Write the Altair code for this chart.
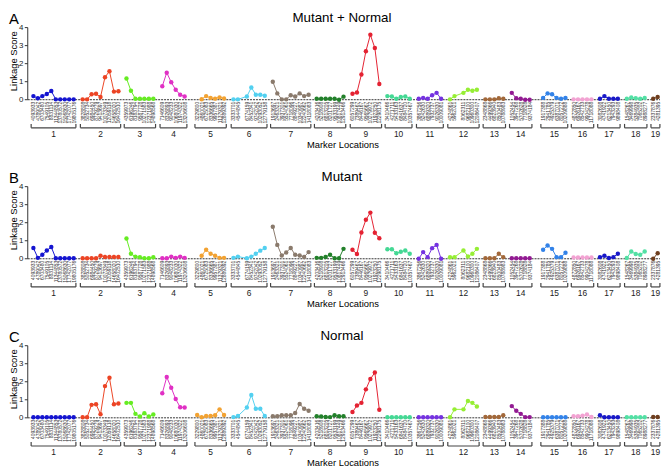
import altair as alt
import pandas as pd

FONT = "Liberation Sans"

CHROMS = [str(i) for i in range(1, 20)]
COLORS = ["#1414d0", "#ec4424", "#66ec22", "#e030c4", "#f2a232", "#52d0f0",
          "#8a7a6c", "#22802a", "#e42232", "#44d894", "#7432e0", "#96ee34",
          "#a2683a", "#921a92", "#3282e8", "#f2a2d2", "#1818c8", "#52e0a4",
          "#6e3e1e"]

# marker index of the first marker of each chromosome (x positions in marker units)
START = [0.0, 11.0, 20.8, 28.8, 36.6, 44.7, 53.5, 63.3, 71.3, 79.1, 86.1,
         93.1, 101.0, 106.9, 113.9, 120.7, 126.6, 132.6, 138.5]
STEPS = {"6": [0, 1, 3, 4, 5, 6, 7], "12": [0, 1, 3, 4, 5, 6]}

MARKERS = {
    "1": ["4093933", "4789042", "6703480", "7549105", "8831114", "11344853", "13780572", "15068630", "17742077", "19805176"],
    "2": ["3828808", "5052734", "6984450", "8729279", "9413697", "10073349", "12059118", "14658020", "16402510"],
    "3": ["4359973", "6196246", "8183794", "9587728", "10271583", "12371988", "14898568"],
    "4": ["7146609", "8326893", "9048233", "10680030", "11974322", "13206608"],
    "5": ["3229800", "4860021", "6725083", "8336665", "9957387", "11379321", "12889392"],
    "6": ["3333701", "4544845", "6774159", "8452341", "9742042", "10293052", "12779158"],
    "7": ["1913697", "2463321", "3937301", "5524061", "7718096", "8849227", "10340987", "12240662", "14118083"],
    "8": ["4203416", "5218908", "6813205", "8201727", "9533199", "10817449", "12913466"],
    "9": ["6057299", "7389467", "8446167", "9565667", "10279972", "11923250", "12298175"],
    "10": ["3410466", "4271711", "5433163", "6841637", "8484720", "10357467"],
    "11": ["3867256", "5242630", "6889320", "7932737", "9026330", "10009081"],
    "12": ["4224861", "5962021", "8062311", "9682100", "10960300", "12086407"],
    "13": ["2348868", "4499366", "6823940", "8500483", "10788983"],
    "14": ["1052454", "3947268", "5702628", "7718828", "9374184"],
    "15": ["1917388", "2941785", "4925379", "6387071", "8057272", "10209888"],
    "16": ["4872850", "6926167", "8542733", "9904278", "11718088"],
    "17": ["3082608", "4741922", "6213450", "7943293", "9898408"],
    "18": ["1548267", "3469998", "5384935", "7065202", "8988277"],
    "19": ["2337876", "4281395"],
}

SCORE_A = {
    "1": [0.2, 0.08, 0.2, 0.32, 0.48, 0.02, 0.02, 0.02, 0.02, 0.02],
    "2": [0.02, 0.02, 0.3, 0.33, 0.15, 1.25, 1.58, 0.45, 0.47],
    "3": [1.18, 0.5, 0.05, 0.05, 0.05, 0.05, 0.05],
    "4": [0.75, 1.5, 0.97, 0.55, 0.28, 0.18],
    "5": [None, 0.03, 0.2, 0.1, 0.06, 0.13, 0.07],
    "6": [0.02, 0.02, 0.18, 0.68, 0.28, 0.28, 0.22],
    "7": [1.0, 0.35, 0.02, 0.02, 0.25, 0.18, 0.35, 0.2, 0.28],
    "8": [0.05, 0.05, 0.05, 0.05, 0.05, 0.0, 0.17],
    "9": [0.33, 0.4, 1.4, 2.69, 3.6, 2.87, 0.87],
    "10": [0.2, 0.18, 0.05, 0.15, 0.18, 0.05],
    "11": [0.05, 0.1, 0.05, 0.25, 0.38, 0.05],
    "12": [0.02, 0.2, 0.38, 0.55, 0.5, 0.55],
    "13": [0.02, 0.02, 0.02, 0.08, 0.05],
    "14": [0.38, 0.08, 0.05, 0.0, 0.0],
    "15": [0.1, 0.35, 0.3, 0.1, 0.05, 0.1],
    "16": [0.02, 0.02, 0.02, 0.02, 0.02],
    "17": [0.05, 0.2, 0.05, 0.05, 0.05],
    "18": [0.05, 0.12, 0.08, 0.05, 0.1],
    "19": [0.05, 0.15],
}

SCORE_B = {
    "1": [0.6, 0.05, 0.22, 0.46, 0.65, 0.03, 0.03, 0.03, 0.03, 0.03],
    "2": [0.03, 0.03, 0.03, 0.03, 0.17, 0.1, 0.1, 0.1, 0.1],
    "3": [1.12, 0.28, 0.12, 0.08, 0.03, 0.03, 0.08],
    "4": [0.03, 0.03, 0.12, 0.05, 0.12, 0.05],
    "5": [None, 0.17, 0.5, 0.28, 0.17, 0.05, 0.05],
    "6": [0.05, 0.12, 0.03, 0.12, 0.28, 0.45, 0.6],
    "7": [1.78, 0.77, 0.18, 0.35, 0.6, 0.22, 0.18, 0.1, 0.37],
    "8": [0.05, 0.05, 0.1, 0.22, 0.03, 0.03, 0.55],
    "9": [0.5, 0.26, 1.46, 2.16, 2.56, 1.44, 1.14],
    "10": [0.53, 0.53, 0.31, 0.39, 0.46, 0.28],
    "11": [0.0, 0.37, 0.09, 0.59, 0.77, 0.0],
    "12": [0.09, 0.09, 0.46, 0.13, 0.28, 0.55],
    "13": [0.03, 0.03, 0.03, 0.28, 0.09],
    "14": [0.03, 0.03, 0.03, 0.03, 0.03],
    "15": [0.5, 0.74, 0.55, 0.09, 0.09, 0.33],
    "16": [0.07, 0.07, 0.07, 0.07, 0.07],
    "17": [0.09, 0.17, 0.04, 0.09, 0.28],
    "18": [0.04, 0.4, 0.26, 0.22, 0.4],
    "19": [0.0, 0.31],
}

SCORE_C = {
    "1": [0.03, 0.03, 0.03, 0.03, 0.03, 0.03, 0.03, 0.03, 0.03, 0.03],
    "2": [0.03, 0.03, 0.72, 0.75, 0.2, 1.76, 2.22, 0.75, 0.79],
    "3": [0.83, 0.83, 0.22, 0.07, 0.25, 0.07, 0.18],
    "4": [1.36, 2.26, 1.67, 1.04, 0.59, 0.57],
    "5": [0.16, 0.03, 0.1, 0.1, 0.14, 0.47, 0.16],
    "6": [0.04, 0.1, 0.57, 1.27, 0.5, 0.5, 0.1],
    "7": [0.09, 0.09, 0.14, 0.14, 0.14, 0.27, 0.77, 0.5, 0.39],
    "8": [0.09, 0.07, 0.05, 0.04, 0.14, 0.09, 0.09],
    "9": [0.32, 0.68, 0.83, 1.58, 2.15, 2.51, 0.45],
    "10": [0.03, 0.03, 0.03, 0.03, 0.03, 0.03],
    "11": [0.03, 0.03, 0.03, 0.03, 0.03, 0.03],
    "12": [0.03, 0.47, 0.47, 0.93, 0.83, 0.63],
    "13": [0.05, 0.05, 0.05, 0.05, 0.14],
    "14": [0.65, 0.39, 0.22, 0.04, 0.04],
    "15": [0.03, 0.03, 0.03, 0.03, 0.03, 0.03],
    "16": [0.09, 0.09, 0.12, 0.18, 0.05],
    "17": [0.14, 0.03, 0.03, 0.03, 0.03],
    "18": [0.03, 0.03, 0.03, 0.03, 0.03],
    "19": [0.05, 0.05],
}

TICKS = [0, 1, 2, 3, 4]

# ---------------- layout constants ----------------
W = 659            # panel width in px
UNIT = 4.53        # px per marker slot
FIRST = 24.7       # px of first marker from left edge
AXIS_X = 19        # px of y axis line
R4, R0 = 17, 90    # px (from panel top) of score 4 and score 0
LAB_Y = 92
BR_Y = 118.5
NUM_Y = 124.5
ML_Y = 136
XDOM = [-FIRST / UNIT, -FIRST / UNIT + W / UNIT]
TITLE_X = 337


def build_frame(scores):
    rows = []
    for i, c in enumerate(CHROMS):
        steps = STEPS.get(c, list(range(len(MARKERS[c]))))
        for st, m, s in zip(steps, MARKERS[c], scores[c]):
            rows.append({"chrom": c, "pos": START[i] + st, "marker": m, "score": s})
    return pd.DataFrame(rows)


def bracket_frame(df):
    g = df.groupby("chrom", sort=False)["pos"].agg(["min", "max"]).reset_index()
    g["lo"] = g["min"] - 0.5
    g["hi"] = g["max"] + 0.5
    g["mid"] = (g["lo"] + g["hi"]) / 2
    return g


def panel(letter, title, scores, P):
    k = (R0 - R4) / 4.0
    ys = alt.Scale(domain=[-(P - R0) / k, 4 + R4 / k], nice=False, zero=False)
    xs = alt.Scale(domain=XDOM, nice=False, zero=False)
    df = build_frame(scores)
    pts = df.dropna(subset=["score"])
    br = bracket_frame(df)
    X = alt.X("pos:Q", scale=xs, axis=None)
    Y = alt.Y("score:Q", scale=ys, axis=None)
    color = alt.Color("chrom:N", scale=alt.Scale(domain=CHROMS, range=COLORS), legend=None)

    baseline = alt.Chart(pd.DataFrame({"v": [0]})).mark_rule(
        color="#333", strokeWidth=1, strokeDash=[2, 1]
    ).encode(y=alt.Y("v:Q", scale=ys, axis=None), x=alt.value(AXIS_X), x2=alt.value(W))

    yline = alt.Chart(pd.DataFrame({"a": [0], "b": [4]})).mark_rule(
        color="#333", strokeWidth=1
    ).encode(y=alt.Y("a:Q", scale=ys, axis=None), y2="b:Q", x=alt.value(AXIS_X))

    tdf = pd.DataFrame({"t": TICKS})
    ticks = alt.Chart(tdf).mark_rule(color="#333", strokeWidth=1).encode(
        y=alt.Y("t:Q", scale=ys, axis=None), x=alt.value(AXIS_X - 3), x2=alt.value(AXIS_X))
    tlabels = alt.Chart(tdf).mark_text(
        align="right", baseline="middle", fontSize=8, font=FONT, color="#222"
    ).encode(y=alt.Y("t:Q", scale=ys, axis=None), x=alt.value(AXIS_X - 4.5), text="t:Q")

    lines = alt.Chart(pts).mark_line(strokeWidth=1).encode(
        x=X, y=Y, color=color, detail="chrom:N", order="pos:Q")
    dots = alt.Chart(pts).mark_circle(size=20, opacity=1).encode(x=X, y=Y, color=color)

    mlabels = alt.Chart(df).mark_text(
        angle=270, align="right", baseline="middle", fontSize=5, font=FONT, color="#333"
    ).encode(x=X, y=alt.value(LAB_Y), text="marker:N")

    brh = alt.Chart(br).mark_rule(color="#444", strokeWidth=1.2).encode(
        x=alt.X("lo:Q", scale=xs, axis=None), x2="hi:Q", y=alt.value(BR_Y))
    brl = alt.Chart(br).mark_rule(color="#444", strokeWidth=1.2).encode(
        x=alt.X("lo:Q", scale=xs, axis=None), y=alt.value(BR_Y - 4), y2=alt.value(BR_Y))
    brr = alt.Chart(br).mark_rule(color="#444", strokeWidth=1.2).encode(
        x=alt.X("hi:Q", scale=xs, axis=None), y=alt.value(BR_Y - 4), y2=alt.value(BR_Y))
    nums = alt.Chart(br).mark_text(
        align="center", baseline="middle", fontSize=8.5, font=FONT, color="#222"
    ).encode(x=alt.X("mid:Q", scale=xs, axis=None), y=alt.value(NUM_Y), text="chrom:N")

    one = pd.DataFrame({"letter": [letter], "title": [title],
                        "xt": ["Marker Locations"], "yt": ["Linkage Score"]})
    t_letter = alt.Chart(one).mark_text(
        align="left", baseline="middle", fontSize=15, font=FONT, color="#000"
    ).encode(x=alt.value(0), y=alt.value(8), text="letter:N")
    t_title = alt.Chart(one).mark_text(
        align="center", baseline="middle", fontSize=13.5, font=FONT, color="#000"
    ).encode(x=alt.value(TITLE_X), y=alt.value(7), text="title:N")
    t_x = alt.Chart(one).mark_text(
        align="center", baseline="middle", fontSize=9.5, font=FONT, color="#000"
    ).encode(x=alt.value(338), y=alt.value(ML_Y), text="xt:N")
    t_y = alt.Chart(one).mark_text(
        angle=270, align="center", baseline="middle", fontSize=9.5, font=FONT, color="#000"
    ).encode(x=alt.value(5), y=alt.value(51), text="yt:N")

    return alt.layer(
        baseline, yline, ticks, tlabels, lines, dots, mlabels, brh, brl, brr, nums,
        t_letter, t_title, t_x, t_y
    ).properties(width=W, height=P)


a = panel("A", "Mutant + Normal", SCORE_A, 161)
b = panel("B", "Mutant", SCORE_B, 161)
c = panel("C", "Normal", SCORE_C, 142)

chart = alt.vconcat(a, b, c, spacing=0, bounds="flush").properties(
    padding=0
).configure_view(stroke=None)

chart.save("out.html", embed_options={"renderer": "svg", "actions": False})
